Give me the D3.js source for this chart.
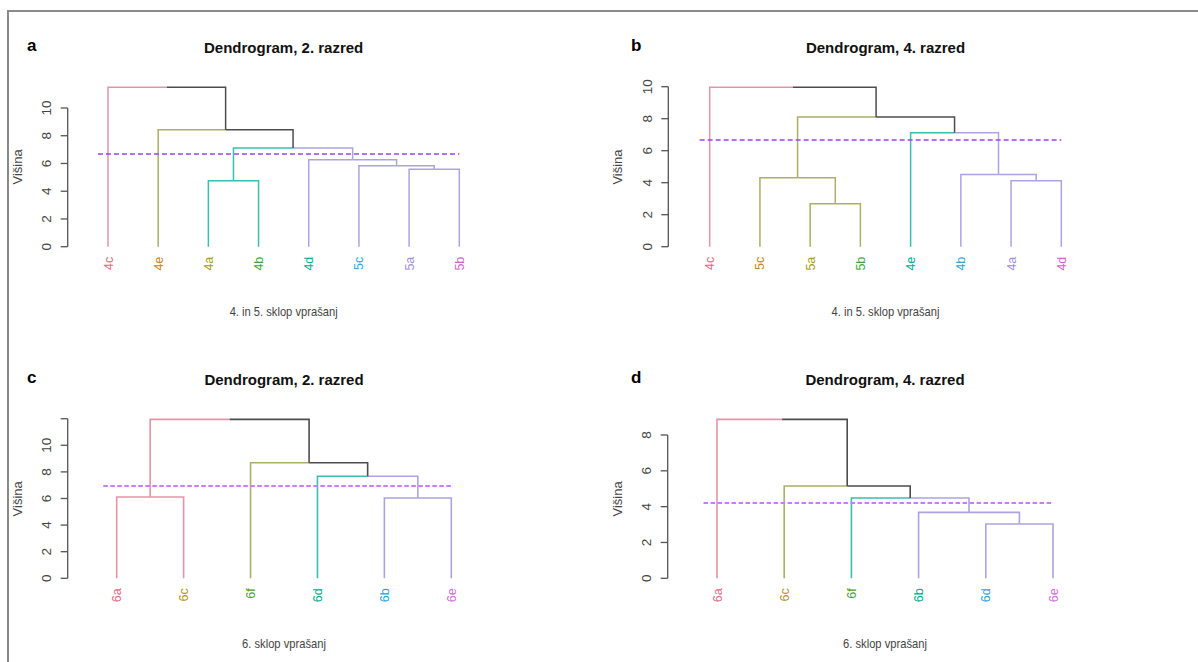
<!DOCTYPE html>
<html><head><meta charset="utf-8">
<script src="https://cdn.jsdelivr.net/npm/d3@7/dist/d3.min.js"></script>
<style>body{margin:0;background:#fff}svg{display:block}text{font-family:"Liberation Sans",Arial,sans-serif}</style>
</head><body><svg id="c" width="1198" height="662"></svg>
<script>
// ---- data ----
const leavesA = ["4c","4e","4a","4b","4d","5c","5a","5b"];
const mergesA = [[-3,-4],[-7,-8],[-6,2],[-5,3],[1,4],[-2,5],[-1,6]];
const heightsA = [4.76,5.58,5.84,6.27,7.11,8.44,11.5];
const clustersA = [1,2,3,3,4,4,4,4];
const cutA = 6.7;

const leavesB = ["4c","5c","5a","5b","4e","4b","4a","4d"];
const mergesB = [[-3,-4],[-7,-8],[-2,1],[-6,2],[-5,4],[3,5],[-1,6]];
const heightsB = [2.69,4.12,4.31,4.52,7.12,8.1,9.96];
const clustersB = [1,2,2,2,3,4,4,4];
const cutB = 6.7;

const leavesC = ["6a","6c","6f","6d","6b","6e"];
const mergesC = [[-5,-6],[-1,-2],[-4,1],[-3,3],[2,4]];
const heightsC = [6.04,6.11,7.67,8.69,11.95];
const clustersC = [1,1,2,3,4,4];
const cutC = 6.94;

const leavesD = ["6a","6c","6f","6b","6d","6e"];
const mergesD = [[-5,-6],[-4,1],[-3,2],[-2,3],[-1,4]];
const heightsD = [3.03,3.68,4.48,5.15,8.87];
const clustersD = [1,2,3,4,4,4];
const cutD = 4.19;

const ticksAB = [0,2,4,6,8,10];
const ticksC = [0,2,4,6,8,10,12];
const ticksD = [0,2,4,6,8];

const titles = ["Dendrogram, 2. razred","Dendrogram, 4. razred","Dendrogram, 2. razred","Dendrogram, 4. razred"];
const xTitles = ["4. in 5. sklop vprašanj","4. in 5. sklop vprašanj","6. sklop vprašanj","6. sklop vprašanj"];
const panelLetters = ["a","b","c","d"];
const yTitle = "Višina";

const clusterColors = ["#E495A5","#ABB065","#39BEB1","#ACA4E2"];
const label8 = ["#E16A86","#C7821C","#A39A22","#3AAA35","#00AD9A","#2FA6DD","#9F8CE6","#D35FC8"];
const label6 = ["#E16A86","#B8902A","#50A315","#00AC8E","#1FA4E0","#D46BDE"];

// ---- layout ----
const panels = [
  {leaves:leavesA, merges:mergesA, heights:heightsA, clusters:clustersA, cut:cutA, ticks:ticksAB, labelled:ticksAB,
   axisX:67.7, xr:[108,459.3], y0:246.7, yTop:108, yTopVal:10, titleY:52.7, letterX:27, letterY:51, xtY:316.5, dash:"5,3", dw:1.4, dc:"#A040F8", lw:1.5},
  {leaves:leavesB, merges:mergesB, heights:heightsB, clusters:clustersB, cut:cutB, ticks:ticksAB, labelled:ticksAB,
   axisX:668.3, xr:[709.7,1061.3], y0:246.7, yTop:86.7, yTopVal:10, titleY:52.7, letterX:631, letterY:51, xtY:316.5, dash:"5,3", dw:1.4, dc:"#A040F8", lw:1.5},
  {leaves:leavesC, merges:mergesC, heights:heightsC, clusters:clustersC, cut:cutC, ticks:ticksC, labelled:[0,2,4,6,8,10],
   axisX:67.7, xr:[116.7,451.3], y0:578.3, yTop:445.3, yTopVal:10, titleY:385, letterX:27, letterY:383, xtY:648.5, dash:"4.5,2.5", dw:2.2, dc:"#CC7AFF", lw:1.6},
  {leaves:leavesD, merges:mergesD, heights:heightsD, clusters:clustersD, cut:cutD, ticks:ticksD, labelled:ticksD,
   axisX:667.7, xr:[717,1053], y0:578.3, yTop:435, yTopVal:8, titleY:385, letterX:631, letterY:383, xtY:648.5, dash:"4.5,2.5", dw:2.2, dc:"#CC7AFF", lw:1.6}
];

const svg = d3.select("#c");
// frame
svg.append("line").attr("x1",8).attr("y1",11).attr("x2",1198).attr("y2",11).attr("stroke","#8a8a8a").attr("stroke-width",2);
svg.append("line").attr("x1",8).attr("y1",10).attr("x2",8).attr("y2",662).attr("stroke","#8a8a8a").attr("stroke-width",2);

panels.forEach((p,pi)=>{
  const n = p.leaves.length;
  const x = d3.scaleLinear().domain([0,n-1]).range(p.xr);
  const y = d3.scaleLinear().domain([0,p.yTopVal]).range([p.y0,p.yTop]);
  const g = svg.append("g");
  const labCols = n===8 ? label8 : label6;

  // build nodes
  const leafNodes = p.leaves.map((l,i)=>({x:x(i), h:0, members:[i], leaf:true}));
  const inner = [];
  const get = id => id<0 ? leafNodes[-id-1] : inner[id-1];
  p.merges.forEach((m,i)=>{
    const a=get(m[0]), b=get(m[1]);
    inner.push({x:(a.x+b.x)/2, h:p.heights[i], members:a.members.concat(b.members), children:[a,b]});
  });
  const colorOf = nd => {
    const cs = new Set(nd.members.map(i=>p.clusters[i]));
    return cs.size===1 ? clusterColors[[...cs][0]-1] : "#4d4d4d";
  };
  // edges
  inner.forEach(nd=>{
    nd.children.forEach(ch=>{
      g.append("path")
        .attr("d",`M${ch.x},${y(ch.h)}V${y(nd.h)}H${nd.x}`)
        .attr("fill","none").attr("stroke",colorOf(ch)).attr("stroke-width",p.lw);
    });
  });
  // cut line
  const cy = Math.round(y(p.cut));
  g.append("line").attr("x1",x(-0.2)).attr("x2",x(n-1)).attr("y1",cy).attr("y2",cy)
    .attr("stroke",p.dc).attr("stroke-width",p.dw).attr("stroke-dasharray",p.dash);

  // leaf labels
  p.leaves.forEach((l,i)=>{
    g.append("text").text(l)
      .attr("transform",`translate(${x(i)+4.5},${p.y0+10}) rotate(-90)`)
      .attr("text-anchor","end").attr("font-size",12.5).attr("fill",labCols[i]);
  });

  // y axis
  const maxTick = d3.max(p.ticks);
  g.append("line").attr("x1",p.axisX).attr("x2",p.axisX).attr("y1",y(0)).attr("y2",y(maxTick)).attr("stroke","#555").attr("stroke-width",1.3);
  p.ticks.forEach(t=>{
    g.append("line").attr("x1",p.axisX-7).attr("x2",p.axisX).attr("y1",y(t)).attr("y2",y(t)).attr("stroke","#555").attr("stroke-width",1.3);
  });
  p.labelled.forEach(t=>{
    g.append("text").text(t)
      .attr("transform",`translate(${p.axisX-16.5},${y(t)}) rotate(-90)`)
      .attr("text-anchor","middle").attr("font-size",13.5).attr("fill","#444");
  });
  // y title
  const maxH = d3.max(p.heights);
  g.append("text").text(yTitle)
    .attr("transform",`translate(${p.axisX-46},${(y(0)+y(maxH))/2}) rotate(-90)`)
    .attr("text-anchor","middle").attr("font-size",13).attr("fill","#444");
  // title
  const cx = (p.xr[0]+p.xr[1])/2;
  g.append("text").text(titles[pi]).attr("x",cx).attr("y",p.titleY)
    .attr("text-anchor","middle").attr("font-size",15).attr("font-weight","bold").attr("fill","#111");
  // x title
  g.append("text").text(xTitles[pi]).attr("x",cx).attr("y",p.xtY)
    .attr("text-anchor","middle").attr("font-size",13).attr("fill","#444")
    .attr("transform",`translate(${cx},0) scale(0.86,1) translate(${-cx},0)`);
  // panel letter
  g.append("text").text(panelLetters[pi]).attr("x",p.letterX).attr("y",p.letterY)
    .attr("font-size",17).attr("font-weight","bold").attr("fill","#000");
});
</script>
</body></html>
